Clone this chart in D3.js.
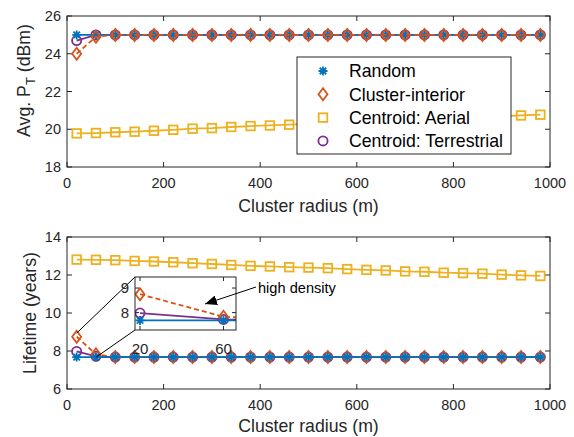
<!DOCTYPE html>
<html>
<head>
<meta charset="utf-8">
<script src="https://cdn.jsdelivr.net/npm/d3@7"></script>
<style>
body { margin: 0; background: #fff; }
text { font-family: "Liberation Sans", Arial, sans-serif; }
</style>
</head>
<body>
<svg id="chart" width="574" height="437"></svg>
<script>
// cluster radius (m)
var radius = [20, 60, 100, 140, 180, 220, 260, 300, 340, 380, 420, 460, 500,
              540, 580, 620, 660, 700, 740, 780, 820, 860, 900, 940, 980];

// Avg. transmit power (dBm)
var ptRandom   = radius.map(() => 25);
var ptInterior = [24.0, 24.9, 25, 25, 25, 25, 25, 25, 25, 25, 25, 25, 25,
                  25, 25, 25, 25, 25, 25, 25, 25, 25, 25, 25, 25];
var ptAerial   = [19.78, 19.8, 19.84, 19.87, 19.92, 19.97, 20.03, 20.06, 20.12, 20.17, 20.2, 20.24, 20.29,
                  20.33, 20.37, 20.41, 20.45, 20.49, 20.53, 20.57, 20.61, 20.65, 20.69, 20.73, 20.77];
var ptTerr     = [24.7, 25, 25, 25, 25, 25, 25, 25, 25, 25, 25, 25, 25,
                  25, 25, 25, 25, 25, 25, 25, 25, 25, 25, 25, 25];

// lifetime (years)
var lfRandom   = radius.map(() => 7.68);
var lfInterior = [8.75, 7.83, 7.68, 7.68, 7.68, 7.68, 7.68, 7.68, 7.68, 7.68, 7.68, 7.68, 7.68,
                  7.68, 7.68, 7.68, 7.68, 7.68, 7.68, 7.68, 7.68, 7.68, 7.68, 7.68, 7.68];
var lfAerial   = [12.81, 12.8, 12.78, 12.74, 12.71, 12.67, 12.62, 12.58, 12.53, 12.48, 12.45, 12.41, 12.39,
                  12.36, 12.31, 12.27, 12.24, 12.19, 12.17, 12.12, 12.1, 12.07, 12.02, 11.98, 11.95];
var lfTerr     = [7.98, 7.72, 7.68, 7.68, 7.68, 7.68, 7.68, 7.68, 7.68, 7.68, 7.68, 7.68, 7.68,
                  7.68, 7.68, 7.68, 7.68, 7.68, 7.68, 7.68, 7.68, 7.68, 7.68, 7.68, 7.68];

var xTicks = [0, 200, 400, 600, 800, 1000];
var ptTicks = [18, 20, 22, 24, 26];
var lfTicks = [6, 8, 10, 12, 14];
var legendLabels = ["Random", "Cluster-interior", "Centroid: Aerial", "Centroid: Terrestrial"];

var blue = "#0072BD", red = "#D95319", yellow = "#EDB120", purple = "#7E2F8E";
var axisCol = "#262626";
var lw = 1.8;

var styles = {
  random:   {color: blue,   marker: "star",    dash: null},
  interior: {color: red,    marker: "diamond", dash: "5,3"},
  aerial:   {color: yellow, marker: "square",  dash: null},
  terr:     {color: purple, marker: "circle",  dash: null}
};

var svg = d3.select("#chart");
var left = 67, right = 550;

var x = d3.scaleLinear().domain([0, 1000]).range([left, right]);
var yTop = d3.scaleLinear().domain([18, 26]).range([167, 16]);
var yBot = d3.scaleLinear().domain([6, 14]).range([389, 237]);

function drawMarker(g, type, cx, cy, color) {
  if (type == "star") {
    var r = 4.5, d = r * 0.72;
    g.append("path")
      .attr("d", `M${cx-r},${cy}L${cx+r},${cy}M${cx},${cy-r}L${cx},${cy+r}` +
                 `M${cx-d},${cy-d}L${cx+d},${cy+d}M${cx-d},${cy+d}L${cx+d},${cy-d}`)
      .attr("stroke", color).attr("stroke-width", lw).attr("fill", "none");
  } else if (type == "diamond") {
    g.append("path")
      .attr("d", `M${cx},${cy-6}L${cx+4.5},${cy}L${cx},${cy+6}L${cx-4.5},${cy}Z`)
      .attr("stroke", color).attr("stroke-width", lw).attr("fill", "none");
  } else if (type == "square") {
    g.append("rect").attr("x", cx - 4.3).attr("y", cy - 4.3).attr("width", 8.6).attr("height", 8.6)
      .attr("stroke", color).attr("stroke-width", lw).attr("fill", "none");
  } else {
    g.append("circle").attr("cx", cx).attr("cy", cy).attr("r", 4.6)
      .attr("stroke", color).attr("stroke-width", lw).attr("fill", "none");
  }
}

function drawSeries(g, xs, ys, xv, yv, st) {
  var line = d3.line().x((d, i) => xs(xv[i])).y(d => ys(d));
  g.append("path").datum(yv)
    .attr("d", line)
    .attr("fill", "none")
    .attr("stroke", st.color)
    .attr("stroke-width", lw)
    .attr("stroke-dasharray", st.dash);
  yv.forEach((v, i) => drawMarker(g, st.marker, xs(xv[i]), ys(v), st.color));
}

function drawFrame(g, xs, ys, xt, yt, tick, fs, xlab) {
  var x0 = xs.range()[0], x1 = xs.range()[1], y0 = ys.range()[0], y1 = ys.range()[1];
  g.append("rect").attr("x", x0).attr("y", y1).attr("width", x1 - x0).attr("height", y0 - y1)
    .attr("fill", "none").attr("stroke", axisCol).attr("stroke-width", 1);
  xt.forEach(t => {
    g.append("line").attr("x1", xs(t)).attr("x2", xs(t)).attr("y1", y0).attr("y2", y0 - tick).attr("stroke", axisCol);
    g.append("line").attr("x1", xs(t)).attr("x2", xs(t)).attr("y1", y1).attr("y2", y1 + tick).attr("stroke", axisCol);
    if (xlab) g.append("text").attr("x", xs(t)).attr("y", y0 + 21).attr("text-anchor", "middle")
      .attr("font-size", fs).attr("fill", axisCol).text(t);
  });
  yt.forEach(t => {
    g.append("line").attr("x1", x0).attr("x2", x0 + tick).attr("y1", ys(t)).attr("y2", ys(t)).attr("stroke", axisCol);
    g.append("line").attr("x1", x1).attr("x2", x1 - tick).attr("y1", ys(t)).attr("y2", ys(t)).attr("stroke", axisCol);
    g.append("text").attr("x", x0 - 6).attr("y", ys(t) + 5).attr("text-anchor", "end")
      .attr("font-size", fs).attr("fill", axisCol).text(t);
  });
}

// ---------- top panel ----------
var topG = svg.append("g");
drawFrame(topG, x, yTop, xTicks, ptTicks, 5, 14.5, true);
drawSeries(topG, x, yTop, radius, ptTerr, styles.terr);
drawSeries(topG, x, yTop, radius, ptAerial, styles.aerial);
drawSeries(topG, x, yTop, radius, ptRandom, styles.random);
drawSeries(topG, x, yTop, radius, ptInterior, styles.interior);

topG.append("text").attr("x", (left + right) / 2).attr("y", 212).attr("text-anchor", "middle")
  .attr("font-size", 17.7).attr("fill", axisCol).text("Cluster radius (m)");
var tl = topG.append("text").attr("transform", "translate(29.5,80.5) rotate(-90)")
  .attr("text-anchor", "middle").attr("font-size", 17.7).attr("fill", axisCol);
tl.append("tspan").text("Avg. P");
tl.append("tspan").attr("dy", 5).attr("font-size", 13).text("T");
tl.append("tspan").attr("dy", -5).text(" (dBm)");

// legend
var lg = topG.append("g");
lg.append("rect").attr("x", 297).attr("y", 57).attr("width", 214).attr("height", 97)
  .attr("fill", "#fff").attr("stroke", axisCol).attr("stroke-width", 1);
var legStyles = [styles.random, styles.interior, styles.aerial, styles.terr];
legendLabels.forEach((lab, i) => {
  var cy = 71 + i * 23.3;
  drawMarker(lg, legStyles[i].marker, 323, cy, legStyles[i].color);
  lg.append("text").attr("x", 349).attr("y", cy + 6.3).attr("font-size", 17.7).attr("fill", "#000").text(lab);
});

// ---------- bottom panel ----------
var botG = svg.append("g");
drawFrame(botG, x, yBot, xTicks, lfTicks, 5, 14.5, true);
drawSeries(botG, x, yBot, radius, lfTerr, styles.terr);
drawSeries(botG, x, yBot, radius, lfAerial, styles.aerial);
drawSeries(botG, x, yBot, radius, lfInterior, styles.interior);
drawSeries(botG, x, yBot, radius, lfRandom, styles.random);

botG.append("text").attr("x", (left + right) / 2).attr("y", 432).attr("text-anchor", "middle")
  .attr("font-size", 17.7).attr("fill", axisCol).text("Cluster radius (m)");
botG.append("text").attr("transform", "translate(35.5,313) rotate(-90)")
  .attr("text-anchor", "middle").attr("font-size", 17.7).attr("fill", axisCol).text("Lifetime (years)");

// ---------- inset ----------
var xi = d3.scaleLinear().domain([17.6, 66]).range([135, 236]);
var yi = d3.scaleLinear().domain([7.29, 9.45]).range([330, 277]);

// zoom connector lines
botG.append("line").attr("x1", 135).attr("y1", 277).attr("x2", x(20)).attr("y2", yBot(8.94))
  .attr("stroke", "#000").attr("stroke-width", 1);
botG.append("line").attr("x1", 135).attr("y1", 330).attr("x2", x(60)).attr("y2", yBot(7.67))
  .attr("stroke", "#000").attr("stroke-width", 1);

var ins = svg.append("g");
ins.append("rect").attr("x", 135).attr("y", 277).attr("width", 101).attr("height", 53).attr("fill", "#fff");
svg.append("clipPath").attr("id", "insclip").append("rect")
  .attr("x", 135).attr("y", 277).attr("width", 101).attr("height", 53);
var insData = ins.append("g").attr("clip-path", "url(#insclip)");
var ix = radius.slice(0, 3);
drawSeries(insData, xi, yi, ix, lfTerr.slice(0, 3), styles.terr);
drawSeries(insData, xi, yi, ix, lfInterior.slice(0, 3), styles.interior);
drawSeries(insData, xi, yi, ix, lfRandom.slice(0, 3), styles.random);
drawFrame(ins, xi, yi, [], [8, 9], 4, 15, false);
[20, 60].forEach(t => {
  ins.append("line").attr("x1", xi(t)).attr("x2", xi(t)).attr("y1", 330).attr("y2", 326).attr("stroke", axisCol);
  ins.append("line").attr("x1", xi(t)).attr("x2", xi(t)).attr("y1", 277).attr("y2", 281).attr("stroke", axisCol);
  ins.append("text").attr("x", xi(t)).attr("y", 354).attr("text-anchor", "middle")
    .attr("font-size", 15).attr("fill", axisCol).text(t);
});

// annotation arrow
svg.append("defs").append("marker").attr("id", "head")
  .attr("viewBox", "0 0 12 10").attr("refX", 12).attr("refY", 5)
  .attr("markerWidth", 12).attr("markerHeight", 10).attr("markerUnits", "userSpaceOnUse")
  .attr("orient", "auto")
  .append("path").attr("d", "M0,0L12,5L0,10Z").attr("fill", "#000");
svg.append("line").attr("x1", 256).attr("y1", 287).attr("x2", 205).attr("y2", 304)
  .attr("stroke", "#000").attr("stroke-width", 1).attr("marker-end", "url(#head)");
svg.append("text").attr("x", 258).attr("y", 293).attr("font-size", 14.6).attr("fill", "#000").text("high density");
</script>
</body>
</html>
